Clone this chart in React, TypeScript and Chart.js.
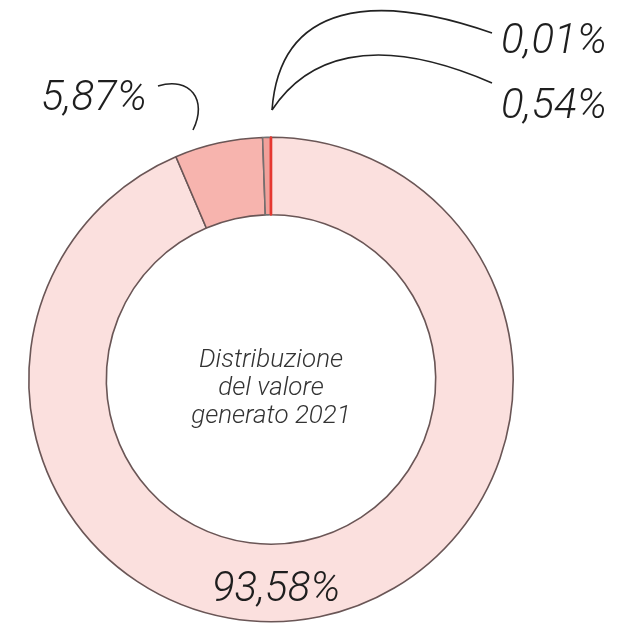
import React, { useEffect, useRef } from "react";
import { Chart, registerables } from "chart.js";

Chart.register(...registerables);

const categories = ["Valore A", "Valore B", "Valore C", "Valore D"];
const values = [93.58, 5.87, 0.54, 0.01];
const valueLabels = ["93,58%", "5,87%", "0,54%", "0,01%"];
const fillColors = ["#fbe0de", "#f7b4ae", "#f2a09a", "#e5372f"];
const edgeColors = ["#6a5656", "#6a5656", "#747070", "#e5372f"];
const edgeWidths = [1.6, 1.6, 1.6, 2.6];
const centerLines = ["Distribuzione", "del valore", "generato 2021"];

const labelFont = "italic 300 42px Roboto, 'Open Sans', sans-serif";
const centerFont = "italic 300 26px Roboto, 'Open Sans', sans-serif";

const annotations = {
  id: "annotations",
  afterDraw(chart: any) {
    const ctx = chart.ctx as CanvasRenderingContext2D;
    const meta = chart.getDatasetMeta(0);
    const arc = meta.data[0] as any;
    const cx = arc.x;
    const cy = arc.y;
    ctx.save();
    // center text
    ctx.fillStyle = "#333333";
    ctx.font = centerFont;
    ctx.textAlign = "center";
    ctx.textBaseline = "alphabetic";
    centerLines.forEach((t, i) => ctx.fillText(t, cx, cy - 13 + i * 28));

    // value labels
    ctx.fillStyle = "#1e1e1e";
    ctx.font = labelFont;
    ctx.textAlign = "left";
    ctx.fillText(valueLabels[0], 212, 601);
    ctx.fillText(valueLabels[1], 41, 110);
    ctx.fillText(valueLabels[2], 501, 118);
    ctx.fillText(valueLabels[3], 501, 53);

    // connectors
    ctx.strokeStyle = "#222222";
    ctx.lineWidth = 1.6;
    ctx.beginPath();
    ctx.moveTo(158, 86);
    ctx.bezierCurveTo(190, 76, 208, 100, 193, 130);
    ctx.stroke();

    ctx.beginPath();
    ctx.moveTo(272, 110);
    ctx.bezierCurveTo(280, 2, 375, -8, 492, 33);
    ctx.stroke();

    ctx.beginPath();
    ctx.moveTo(272, 110);
    ctx.bezierCurveTo(305, 60, 370, 30, 492, 83);
    ctx.stroke();
    ctx.restore();
  },
};

export default function App() {
  const ref = useRef<HTMLCanvasElement | null>(null);
  useEffect(() => {
    if (!ref.current) return;
    const chart = new Chart(ref.current, {
      type: "doughnut",
      data: {
        labels: categories,
        datasets: [
          {
            data: values,
            backgroundColor: fillColors,
            borderColor: edgeColors,
            borderWidth: edgeWidths,
          },
        ],
      },
      options: {
        responsive: false,
        animation: false,
        cutout: "68%",
        rotation: 0,
        layout: { padding: { left: 27, right: 103, top: 136, bottom: 7 } },
        plugins: {
          legend: { display: false },
          tooltip: { enabled: false },
          title: { display: false },
        },
      },
      plugins: [annotations],
    });
    return () => chart.destroy();
  }, []);
  return (
    <div style={{ position: "fixed", left: 0, top: 0, width: 618, height: 630, background: "#ffffff" }}>
      <canvas ref={ref} width={618} height={630} style={{ width: 618, height: 630 }} />
    </div>
  );
}
